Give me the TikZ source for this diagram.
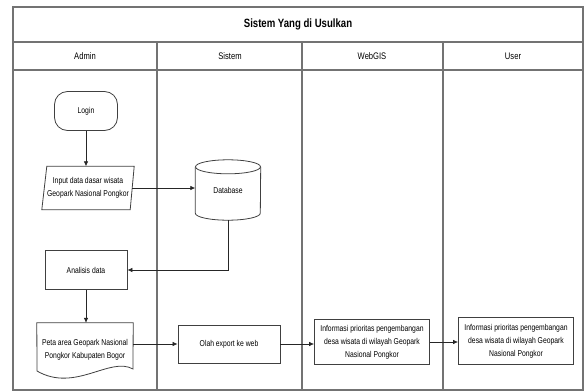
\documentclass[tikz,border=0pt]{standalone}
\usepackage{fontspec}
\setmainfont{Liberation Sans}[FakeStretch=0.8]
\usetikzlibrary{arrows.meta}
\tikzset{
  frame/.style={draw=black!55, line width=1.5pt},
  lane/.style={draw=black!55, line width=1.1pt},
  shp/.style={draw=black!75, line width=0.8pt},
  box/.style={shp, align=center, font=\fontsize{8.5}{13}\selectfont, inner sep=1pt},
  holder/.style={draw=none, align=center, font=\fontsize{8.5}{13}\selectfont, inner sep=1pt},
  arr/.style={-{Latex[length=5pt,width=4.5pt]}, draw=black!85, line width=0.7pt},
  hdr/.style={font=\fontsize{9.5}{11}\selectfont},
}
\begin{document}
\begin{tikzpicture}[x=1pt,y=-1pt]
\useasboundingbox (0,0) rectangle (585,391);
% frame
\draw[frame] (13,7) rectangle (583,390);
\draw[frame] (13,42) -- (583,42);
\draw[frame] (13,70) -- (583,70);
\draw[lane] (157,42) -- (157,390);
\draw[lane] (302,42) -- (302,390);
\draw[lane] (443,42) -- (443,390);
\node[font=\bfseries\fontsize{12}{14}\selectfont] (title) at (298,24) {Sistem Yang di Usulkan};
\node[hdr] (hadmin) at (85,56) {Admin};
\node[hdr] (hsistem) at (230,56) {Sistem};
\node[hdr] (hweb) at (372,56) {WebGIS};
\node[hdr] (huser) at (513,56) {User};

% nodes
\node[box, rounded corners=13pt, minimum width=63pt, minimum height=39pt] (login) at (86,111) {Login};
\node[holder, minimum width=88pt, minimum height=43pt] (input) at (88,188) {Input data dasar wisata\\Geopark Nasional Pongkor};
\draw[shp] ([xshift=-2pt]input.south west) -- ([xshift=3pt]input.north west) -- ([xshift=2pt]input.north east) -- ([xshift=-2pt]input.south east) -- cycle;
\node[holder, minimum width=65pt, minimum height=60pt] (db) at (228,190) {Database};
\draw[shp] ([yshift=-7pt]db.north) ellipse [x radius=32.5pt, y radius=7pt];
\draw[shp] ([yshift=-7pt]db.north west) -- ([yshift=7pt]db.south west) arc[start angle=180, end angle=360, x radius=32.5pt, y radius=7pt] -- ([yshift=-7pt]db.north east);
\node[box, minimum width=82pt, minimum height=39pt] (analisis) at (86,270) {Analisis data};
\node[holder, minimum width=96pt, minimum height=54pt] (peta) at (85,350) {Peta area Geopark Nasional\\Pongkor Kabupaten Bogor};
\draw[shp] (peta.north west) -- (peta.north east) -- (133,369) .. controls (110,356) and (75,393) .. (37,371) -- cycle;
\node[box, minimum width=102pt, minimum height=38pt] (olah) at (229,344) {Olah export ke web};
\node[box, minimum width=115pt, minimum height=45pt] (webgis) at (372,342) {Informasi prioritas pengembangan\\desa wisata di wilayah Geopark\\Nasional Pongkor};
\node[box, minimum width=115pt, minimum height=47pt] (user) at (516,341) {Informasi prioritas pengembangan\\desa wisata di wilayah Geopark\\Nasional Pongkor};

% connectors
\draw[arr] (login.south) -- (login.south |- input.north);
\draw[arr] (input.east) -- (input.east -| db.west);
\draw[arr] (db.south) |- (analisis.east);
\draw[arr] (analisis.south) -- (analisis.south |- peta.north);
\draw[arr] (olah.west -| peta.east) -- (olah.west);
\draw[arr] (olah.east) -- (olah.east -| webgis.west);
\draw[arr] (webgis.east) -- (webgis.east -| user.west);
\end{tikzpicture}
\end{document}
